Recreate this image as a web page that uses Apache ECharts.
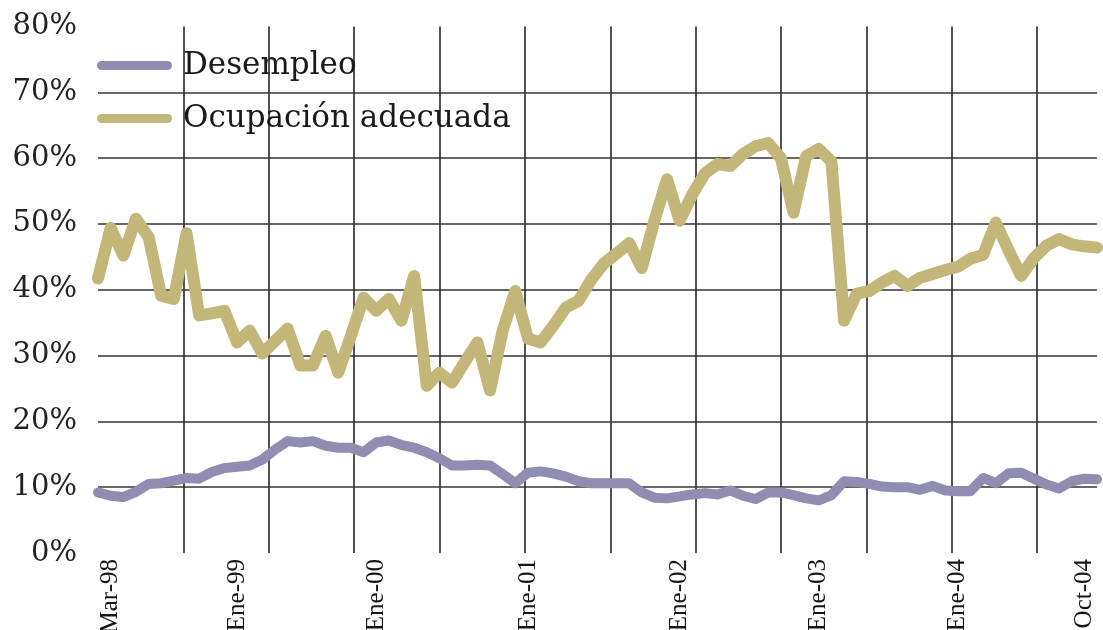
<!DOCTYPE html>
<html>
<head>
<meta charset="utf-8">
<script src="https://cdn.jsdelivr.net/npm/echarts@6/dist/echarts.min.js"></script>
<style>
html,body{margin:0;padding:0;background:#ffffff;}
#chart{width:1103px;height:630px;}
</style>
</head>
<body>
<div id="chart"></div>
<script>
// Category column (only some rows carry a date label, as in the source sheet)
const categories = [
  '', 'Mar-98', '', '', '', '', '', '', '', '',
  '', 'Ene-99', '', '', '', '', '', '', '', '',
  '', '', 'Ene-00', '', '', '', '', '', '', '',
  '', '', '', '', 'Ene-01', '', '', '', '', '',
  '', '', '', '', '', '', 'Ene-02', '', '', '',
  '', '', '', '', '', '', '', 'Ene-03', '', '',
  '', '', '', '', '', '', '', '', 'Ene-04', '',
  '', '', '', '', '', '', '', '', 'Oct-04', ''
];

// Tasa de desempleo (%)
const desempleo = [
  9.2, 8.7, 8.5, 9.3, 10.5, 10.6, 11.0, 11.4, 11.3, 12.3,
  12.9, 13.1, 13.3, 14.2, 15.7, 17.0, 16.8, 17.0, 16.3, 16.0,
  16.0, 15.3, 16.8, 17.1, 16.4, 16.0, 15.3, 14.4, 13.3, 13.3,
  13.4, 13.3, 12.0, 10.6, 12.2, 12.4, 12.1, 11.6, 10.9, 10.6,
  10.6, 10.6, 10.6, 9.2, 8.4, 8.3, 8.6, 8.9, 9.1, 8.9,
  9.5, 8.7, 8.2, 9.2, 9.2, 8.8, 8.3, 8.0, 8.8, 10.9,
  10.8, 10.5, 10.1, 10.0, 10.0, 9.6, 10.2, 9.5, 9.4, 9.4,
  11.4, 10.6, 12.1, 12.2, 11.3, 10.4, 9.8, 10.9, 11.3, 11.2
];

// Tasa de ocupación adecuada (%)
const ocupacion = [
  41.7, 49.4, 45.2, 50.8, 48.0, 39.1, 38.6, 48.6, 36.1, 36.4,
  36.8, 32.0, 33.8, 30.3, 32.2, 34.1, 28.5, 28.5, 33.0, 27.4,
  33.0, 38.8, 36.8, 38.6, 35.3, 42.1, 25.4, 27.4, 25.9, 29.0,
  32.0, 24.7, 33.8, 39.8, 32.6, 32.0, 34.5, 37.3, 38.3, 41.5,
  44.0, 45.5, 47.1, 43.3, 50.5, 56.8, 50.5, 54.5, 57.7, 59.1,
  58.8, 60.6, 61.8, 62.3, 60.0, 51.7, 60.3, 61.4, 59.5, 35.3,
  39.4, 39.8, 41.1, 42.1, 40.6, 41.8, 42.4, 43.0, 43.5, 44.7,
  45.3, 50.2, 46.0, 42.1, 44.8, 46.7, 47.7, 46.9, 46.6, 46.4
];

const seriesNames = ['Desempleo', 'Ocupación adecuada'];
const seriesColors = ['#8f8db2', '#c3b679'];

const gridLine = { color: '#333333', width: 1.7 };
const capsule = 'path://M4.5,0 L70.5,0 A4.5,4.5 0 0 1 70.5,9 L4.5,9 A4.5,4.5 0 0 1 4.5,0 Z';

const chart = echarts.init(document.getElementById('chart'), null, { renderer: 'canvas' });
chart.setOption({
  animation: false,
  backgroundColor: '#ffffff',
  color: seriesColors,
  grid: { left: 98, right: 6, top: 26.5, bottom: 77, containLabel: false, outerBoundsMode: 'none' },
  legend: {
    data: seriesNames,
    orient: 'vertical',
    left: 97,
    top: 48.5,
    padding: 0,
    itemWidth: 75,
    itemHeight: 9,
    itemGap: 19,
    icon: capsule,
    textStyle: { fontFamily: 'DejaVu Serif', fontSize: 31, color: '#1a1a1a', lineHeight: 34, padding: [0, 0, 0, 6] }
  },
  xAxis: [
    {
      type: 'category',
      data: categories,
      boundaryGap: false,
      axisLine: { show: false },
      axisTick: { show: false },
      splitLine: { show: false },
      axisLabel: {
        interval: 0,
        rotate: 90,
        margin: 6,
        fontFamily: 'Liberation Serif',
        fontSize: 25,
        color: '#151515'
      }
    },
    {
      type: 'value',
      position: 'bottom',
      min: 0,
      max: 11.7,
      interval: 1,
      axisLine: { show: false },
      axisTick: { show: false },
      axisLabel: { show: false },
      splitLine: { show: true, showMinLine: false, showMaxLine: false, lineStyle: gridLine }
    }
  ],
  yAxis: {
    type: 'value',
    min: 0,
    max: 80,
    interval: 10,
    axisLine: { show: false },
    axisTick: { show: false },
    axisLabel: {
      formatter: '{value}%',
      margin: 21,
      fontFamily: 'DejaVu Serif',
      fontSize: 29,
      color: '#222222'
    },
    splitLine: { show: true, showMinLine: false, showMaxLine: false, lineStyle: gridLine }
  },
  series: [
    {
      name: seriesNames[0],
      type: 'line',
      xAxisIndex: 0,
      data: desempleo,
      symbol: 'none',
      smooth: false,
      lineStyle: { width: 10, color: seriesColors[0], cap: 'round', join: 'round' }
    },
    {
      name: seriesNames[1],
      type: 'line',
      xAxisIndex: 0,
      data: ocupacion,
      symbol: 'none',
      smooth: false,
      lineStyle: { width: 12, color: seriesColors[1], cap: 'round', join: 'round' }
    }
  ]
});
</script>
</body>
</html>
